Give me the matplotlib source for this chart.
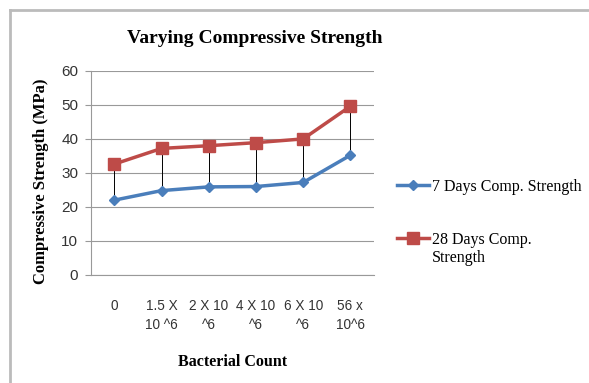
import matplotlib
matplotlib.use("Agg")
import matplotlib.pyplot as plt
from matplotlib.lines import Line2D

categories = ["0", "1.5 X\n10 ^6", "2 X 10\n^6", "4 X 10\n^6", "6 X 10\n^6", "56 x\n10^6"]
days7 = [22.0, 24.8, 25.9, 26.0, 27.2, 35.2]
days28 = [32.6, 37.2, 38.0, 38.9, 40.0, 49.6]
labels = ["7 Days Comp. Strength", "28 Days Comp."]

serif = "Liberation Serif"
sans = "Liberation Sans"

fig = plt.figure(figsize=(5.89, 3.83), dpi=100)
ax = fig.add_axes([0.154, 0.282, 0.481, 0.533])

x = range(len(categories))
# high-low lines between the two series
ax.vlines(x, days7, days28, color="black", lw=0.7, zorder=2)
ax.plot(x, days7, color="#4a7ebb", lw=2.5, marker="D", ms=5.5,
        label=labels[0], zorder=3)
ax.plot(x, days28, color="#be4b48", lw=2.5, marker="s", ms=8,
        label=labels[1], zorder=3)

ax.set_xlim(-0.5, len(categories) - 0.5)
ax.set_ylim(0, 60)
ax.set_yticks(range(0, 61, 10))
ax.set_xticks(list(x))
ax.set_xticklabels(categories, fontfamily=sans, fontsize=9.8,
                   color="#333333", linespacing=1.5)
for t in ax.get_yticklabels():
    t.set_fontfamily(sans)
    t.set_fontsize(11)
    t.set_color("#333333")
ax.tick_params(axis="x", length=0, pad=17)
ax.tick_params(axis="y", length=4, color="#999999", pad=5)
ax.grid(axis="y", color="#999999", lw=0.8)
ax.set_axisbelow(True)
for s in ["top", "right"]:
    ax.spines[s].set_visible(False)
ax.spines["left"].set_color("#999999")
ax.spines["bottom"].set_color("#999999")

fig.text(0.433, 0.9, "Varying Compressive Strength", fontfamily=serif,
         fontweight="bold", fontsize=14, ha="center", va="center")
ax.set_xlabel("Bacterial Count", fontfamily=serif, fontweight="bold",
              fontsize=11.5)
ax.xaxis.set_label_coords(0.5, -0.385)
ax.set_ylabel("Compressive Strength (MPa)", fontfamily=serif,
              fontweight="bold", fontsize=12)
ax.yaxis.set_label_coords(-0.147, 0.46)

ax.legend(loc="upper left", bbox_to_anchor=(0.65, 0.57),
          bbox_transform=fig.transFigure, frameon=False,
          prop={"family": serif, "size": 11.5}, handlelength=2.0,
          handletextpad=0.15, labelspacing=2.3)
fig.text(432 / 589, 1 - 258 / 383, "Strength", fontfamily=serif,
         fontsize=11.5, ha="left", va="center")

# outer chart border
fig.add_artist(Line2D([0.017, 0.017], [0, 0.974], color="#bbbbbb", lw=2,
                      transform=fig.transFigure))
fig.add_artist(Line2D([0.017, 1], [0.974, 0.974], color="#bbbbbb", lw=2,
                      transform=fig.transFigure))

fig.savefig("out.png", dpi=100)
